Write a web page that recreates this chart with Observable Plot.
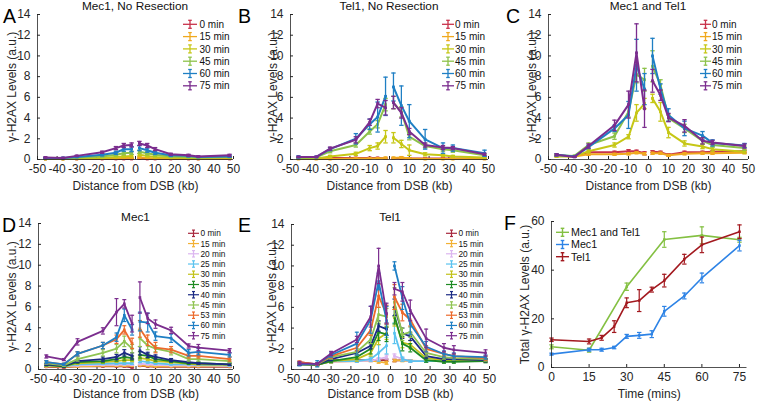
<!DOCTYPE html>
<html><head><meta charset="utf-8">
<script src="https://cdn.jsdelivr.net/npm/d3@7"></script>
<script src="https://cdn.jsdelivr.net/npm/@observablehq/plot@0.6"></script>
<style>
html,body{margin:0;padding:0;background:#fff;}
#root{position:relative;width:757px;height:401px;overflow:hidden;font-family:"Liberation Sans",Arial,Helvetica,sans-serif;}
</style></head><body><div id="root"></div>
<script>
// ---------- shared axes ----------
const distKb = [-46, -37, -30, -17, -10, -6, -2, 2, 6, 10, 18, 27, 32, 48];
const xDomain = [-50, 50];
const xTicks = [-50, -40, -30, -20, -10, 0, 10, 20, 30, 40, 50];
const yDomain = [0, 14];
const yTicks = [0, 2, 4, 6, 8, 10, 12, 14];

const timesABC = ["0 min", "15 min", "30 min", "45 min", "60 min", "75 min"];
const colorsABC = ["#c8324b", "#f0a91e", "#c6c716", "#8dc24a", "#1f7fc4", "#7b2d8e"];
const timesDE = ["0 min", "15 min", "20 min", "25 min", "30 min", "35 min", "40 min", "45 min", "53 min", "60 min", "75 min"];
const colorsDE = ["#a8283e", "#f2b134", "#dcb6f0", "#5bc3ef", "#c2c21a", "#1e8a22", "#1c2a85", "#90c452", "#ec6a2c", "#1f7fc4", "#7b2d8e"];

// ---------- Panel A: Mec1, No Resection ----------
const A_0  = [0.05,0.05,0.05,0.05,0.05,0.05,0.05,0.1,0.05,0.05,0.05,0.05,0.05,0.05];
const A_15 = [0.05,0.05,0.05,0.1,0.1,0.15,0.15,0.2,0.15,0.1,0.1,0.1,0.05,0.1];
const A_30 = [0.05,0.05,0.1,0.15,0.25,0.3,0.35,0.45,0.35,0.25,0.2,0.15,0.15,0.2];
const A_45 = [0.1,0.1,0.2,0.3,0.45,0.6,0.65,0.75,0.6,0.45,0.3,0.25,0.2,0.25];
const A_60 = [0.15,0.15,0.25,0.45,0.65,1.0,1.0,1.1,0.9,0.65,0.4,0.35,0.25,0.3];
const A_75 = [0.2,0.15,0.35,0.7,1.1,1.35,1.4,1.55,1.35,1.0,0.5,0.4,0.3,0.4];
const A_0e  = [0.03,0.03,0.03,0.03,0.03,0.03,0.03,0.05,0.03,0.03,0.03,0.03,0.03,0.03];
const A_15e = [0.03,0.03,0.03,0.05,0.05,0.05,0.05,0.08,0.05,0.05,0.05,0.05,0.03,0.05];
const A_30e = [0.03,0.03,0.05,0.05,0.08,0.1,0.1,0.1,0.1,0.08,0.05,0.05,0.05,0.05];
const A_45e = [0.05,0.05,0.05,0.08,0.1,0.15,0.15,0.15,0.15,0.1,0.08,0.05,0.05,0.05];
const A_60e = [0.05,0.05,0.05,0.1,0.15,0.2,0.25,0.25,0.2,0.15,0.1,0.1,0.05,0.1];
const A_75e = [0.05,0.05,0.05,0.1,0.15,0.2,0.2,0.2,0.2,0.15,0.1,0.1,0.05,0.1];

// ---------- Panel B: Tel1, No Resection ----------
const B_0  = [0.1,0.1,0.15,0.15,0.15,0.15,0.1,0.1,0.1,0.1,0.1,0.1,0.1,0.1];
const B_15 = [0.05,0.05,0.05,0.1,0.1,0.1,0.15,0.15,0.2,0.1,0.05,0.05,0.05,0.05];
const B_30 = [0.1,0.1,0.3,0.55,1.1,1.3,2.2,2.1,1.5,0.9,0.5,0.4,0.3,0.2];
const B_45 = [0.15,0.2,0.8,1.4,2.7,3.4,5.3,5.5,4.6,2.2,1.3,1.0,0.9,0.4];
const B_60 = [0.25,0.25,1.0,2.0,3.4,4.1,6.1,7.0,5.2,3.7,1.95,1.1,1.1,0.6];
const B_75 = [0.25,0.25,1.05,1.9,3.6,5.4,5.0,5.5,4.5,2.7,1.4,1.15,1.1,0.5];
const B_0e  = [0.05,0.05,0.05,0.05,0.05,0.05,0.05,0.05,0.05,0.05,0.05,0.05,0.05,0.05];
const B_15e = [0.05,0.05,0.05,0.05,0.05,0.05,0.08,0.08,0.08,0.05,0.05,0.05,0.05,0.05];
const B_30e = [0.05,0.05,0.1,0.15,0.25,0.3,0.6,0.5,0.35,0.5,0.15,0.1,0.1,0.1];
const B_45e = [0.05,0.05,0.15,0.2,0.25,0.35,0.6,0.6,0.5,0.3,0.2,0.2,0.2,0.1];
const B_60e = [0.1,0.05,0.15,0.5,0.5,1.45,1.85,1.35,1.9,1.6,0.95,0.5,0.3,0.3];
const B_75e = [0.05,0.05,0.15,0.3,0.3,0.4,0.7,0.6,0.5,0.3,0.2,0.2,0.15,0.1];

// ---------- Panel C: Mec1 and Tel1 ----------
const C_0  = [0.4,0.3,0.7,0.7,0.8,0.8,0.6,0.75,0.7,0.45,0.7,0.7,0.75,0.8];
const C_15 = [0.35,0.3,0.5,0.5,0.55,0.65,0.55,0.6,0.6,0.4,0.55,0.6,0.6,0.65];
const C_30 = [0.3,0.3,0.8,1.4,2.2,4.5,5.4,5.9,4.6,2.6,1.55,1.25,1.0,0.75];
const C_45 = [0.4,0.35,1.4,2.25,4.6,8.2,7.7,9.0,7.2,4.0,3.0,1.8,1.4,1.1];
const C_60 = [0.45,0.3,1.2,3.0,4.3,9.1,6.8,10.0,6.8,4.3,3.0,2.3,1.6,1.35];
const C_75 = [0.45,0.25,1.3,3.3,5.3,10.3,4.9,7.6,6.2,4.05,3.25,1.8,1.65,1.3];
const C_0e  = [0.1,0.05,0.1,0.1,0.15,0.1,0.15,0.1,0.1,0.1,0.1,0.1,0.1,0.1];
const C_15e = [0.1,0.05,0.1,0.1,0.1,0.1,0.1,0.1,0.1,0.1,0.1,0.1,0.1,0.1];
const C_30e = [0.05,0.05,0.15,0.2,0.2,0.8,0.5,0.4,0.9,0.5,0.25,0.2,0.2,0.15];
const C_45e = [0.05,0.05,0.2,0.3,0.5,0.8,1.1,1.5,0.5,0.3,0.4,0.3,0.2,0.2];
const C_60e = [0.1,0.05,0.15,0.3,1.3,2.5,1.5,1.7,0.5,0.6,0.7,0.4,0.3,0.2];
const C_75e = [0.1,0.05,0.2,0.5,1.3,2.8,1.8,1.1,0.5,0.4,0.6,0.3,0.2,0.2];

// ---------- Panel D: Mec1 ----------
const D_0  = [0.25,0.2,0.3,0.3,0.3,0.3,0.2,0.35,0.3,0.25,0.25,0.25,0.25,0.25];
const D_15 = [0.3,0.25,0.3,0.35,0.35,0.35,0.35,0.4,0.35,0.3,0.3,0.3,0.3,0.3];
const D_20 = [0.35,0.3,0.4,0.45,0.45,0.5,0.45,0.55,0.5,0.45,0.4,0.4,0.4,0.35];
const D_25 = [0.4,0.3,0.5,0.55,0.6,0.6,0.6,0.8,0.7,0.6,0.5,0.5,0.45,0.4];
const D_30 = [0.4,0.3,0.6,0.7,0.8,0.9,0.9,1.1,1.0,0.8,0.7,0.55,0.5,0.45];
const D_35 = [0.45,0.3,0.7,0.8,1.0,1.2,1.1,1.4,1.3,1.0,0.8,0.6,0.6,0.5];
const D_40 = [0.5,0.35,0.8,1.0,1.2,1.6,1.3,1.8,1.4,1.2,0.9,0.7,0.6,0.5];
const D_45 = [0.6,0.4,1.0,1.6,2.0,2.7,2.0,3.0,2.3,2.0,1.7,1.0,1.0,0.8];
const D_53 = [0.7,0.5,1.5,2.3,2.9,3.8,2.5,3.9,2.8,2.1,1.9,1.3,1.3,1.0];
const D_60 = [0.7,0.5,1.5,2.3,3.1,5.2,3.8,4.6,4.5,3.2,3.0,1.6,1.7,1.4];
const D_75 = [1.25,0.95,2.65,3.7,5.5,6.3,4.4,6.9,4.9,4.35,3.75,2.25,2.1,1.8];
const D_0e  = [0.05,0.05,0.05,0.05,0.05,0.05,0.05,0.05,0.05,0.05,0.05,0.05,0.05,0.05];
const D_15e = [0.05,0.05,0.05,0.05,0.05,0.05,0.05,0.05,0.05,0.05,0.05,0.05,0.05,0.05];
const D_20e = [0.05,0.05,0.05,0.05,0.05,0.05,0.05,0.1,0.05,0.05,0.05,0.05,0.05,0.05];
const D_25e = [0.05,0.05,0.05,0.05,0.1,0.1,0.1,0.15,0.1,0.1,0.05,0.05,0.05,0.05];
const D_30e = [0.05,0.05,0.1,0.1,0.1,0.15,0.15,0.2,0.15,0.1,0.1,0.05,0.05,0.05];
const D_35e = [0.1,0.1,0.1,0.15,0.2,0.3,0.2,0.3,0.2,0.2,0.1,0.1,0.1,0.1];
const D_40e = [0.1,0.1,0.15,0.2,0.25,0.3,0.3,0.4,0.25,0.2,0.15,0.1,0.1,0.1];
const D_45e = [0.1,0.1,0.2,0.3,0.4,0.5,0.4,0.8,0.4,0.3,0.3,0.2,0.2,0.15];
const D_53e = [0.15,0.1,0.2,0.3,0.4,0.4,0.5,0.8,0.5,0.5,0.3,0.2,0.2,0.2];
const D_60e = [0.15,0.1,0.2,0.3,0.4,0.6,0.5,0.9,0.9,0.4,0.4,0.3,0.3,0.2];
const D_75e = [0.15,0.1,0.3,0.3,1.3,0.4,0.8,1.5,0.5,0.4,0.3,0.2,0.3,0.2];

// ---------- Panel E: Tel1 ----------
const E_0  = [0.7,0.5,0.9,0.9,0.9,0.9,0.9,0.85,0.9,0.85,0.8,0.8,0.8,0.8];
const E_15 = [0.6,0.5,0.75,0.8,0.85,0.75,0.65,0.9,0.85,0.85,0.8,0.8,0.8,0.85];
const E_20 = [0.6,0.5,0.75,0.8,0.85,1.0,1.2,1.3,1.0,0.8,0.8,0.8,0.8,0.9];
const E_25 = [0.6,0.5,0.8,0.8,1.0,1.6,2.3,3.5,1.0,0.8,0.8,0.8,0.8,0.9];
const E_30 = [0.5,0.45,0.8,1.0,1.6,3.0,3.5,5.0,2.6,2.4,1.1,0.9,0.9,0.9];
const E_35 = [0.5,0.45,0.8,1.2,2.0,3.6,3.4,5.2,2.5,2.1,0.9,0.75,0.75,0.8];
const E_40 = [0.5,0.5,1.0,1.6,2.3,4.2,3.9,6.0,3.5,3.2,1.3,1.0,1.0,0.9];
const E_45 = [0.6,0.5,1.2,1.7,2.9,5.3,5.1,6.5,3.4,3.6,1.6,1.2,1.1,1.0];
const E_53 = [0.7,0.5,1.3,2.1,3.8,7.1,5.3,7.0,5.5,4.8,2.0,1.5,1.3,1.1];
const E_60 = [0.5,0.55,1.4,2.5,4.8,8.5,4.7,10.0,6.9,4.4,2.2,1.5,1.3,1.2];
const E_75 = [0.6,0.55,1.55,2.9,5.1,10.0,5.4,7.8,7.5,5.7,3.0,2.1,1.9,1.6];
const E_0e  = [0.1,0.05,0.1,0.1,0.1,0.1,0.1,0.1,0.1,0.1,0.1,0.1,0.1,0.1];
const E_15e = [0.1,0.05,0.1,0.1,0.1,0.15,0.15,0.15,0.1,0.1,0.1,0.1,0.1,0.1];
const E_20e = [0.1,0.05,0.1,0.1,0.1,0.15,0.2,0.2,0.15,0.1,0.1,0.1,0.1,0.1];
const E_25e = [0.1,0.1,0.1,0.1,0.2,0.8,0.8,1.0,0.2,0.1,0.1,0.1,0.1,0.1];
const E_30e = [0.1,0.1,0.15,0.2,0.3,0.6,0.6,0.8,0.5,0.4,0.2,0.15,0.15,0.15];
const E_35e = [0.1,0.1,0.15,0.2,0.5,0.8,0.7,0.8,0.7,0.4,0.2,0.15,0.15,0.15];
const E_40e = [0.1,0.1,0.15,0.2,0.3,0.5,0.6,0.8,0.5,0.4,0.2,0.15,0.15,0.15];
const E_45e = [0.1,0.1,0.2,0.3,0.4,0.7,0.8,1.4,0.6,0.5,0.3,0.2,0.2,0.2];
const E_53e = [0.1,0.1,0.2,0.3,0.5,1.1,0.9,1.2,0.8,0.6,0.3,0.2,0.2,0.2];
const E_60e = [0.15,0.3,0.2,1.1,1.3,0.8,1.4,0.4,1.1,1.0,0.5,0.3,0.3,0.2];
const E_75e = [0.15,0.1,0.2,0.3,1.0,1.7,1.0,0.6,0.9,1.0,0.9,0.4,0.4,0.3];

// ---------- Panel F: totals ----------
const fNames = ["Mec1 and Tel1", "Mec1", "Tel1"];
const fColors = ["#84c042", "#2d83e6", "#a3191f"];
const fTimesBoth = [0, 15, 30, 45, 60, 75];
const fBoth    = [8.5, 7.1, 33.2, 52.6, 54.3, 52.5];
const fBothErr = [0.8, 0.8, 1.5, 3.2, 3.5, 1.0];
const fTimes = [0, 15, 20, 25, 30, 35, 40, 45, 53, 60, 75];
const fMec1    = [5.5, 7.3, 7.3, 8.2, 12.8, 13.2, 13.7, 23.1, 29.4, 36.8, 50.1];
const fMec1Err = [0.4, 0.6, 0.6, 0.5, 0.8, 1.2, 1.4, 2.0, 1.2, 2.0, 2.2];
const fTel1    = [11.4, 10.7, 12.2, 16.8, 26.6, 27.5, 32.0, 35.7, 44.5, 50.4, 55.8];
const fTel1Err = [0.7, 1.0, 1.0, 2.4, 2.0, 4.5, 1.0, 2.6, 2.0, 3.2, 2.8];
const fXDomain = [0, 78];
const fXTicks = [0, 15, 30, 45, 60, 75];
const fYDomain = [0, 60];
const fYTicks = [0, 20, 40, 60];

// ---------- helpers ----------
const FONT = '"Liberation Sans", Arial, Helvetica, sans-serif';
const AX = "#262626";
const root = document.getElementById("root");
const capSym = {draw(ctx, size) { const r = Math.sqrt(size / Math.PI); ctx.moveTo(-r, 0); ctx.lineTo(r, 0); }};

function seriesMarks(xs, vals, errs, color, o) {
  const rows = xs.map((x, i) => ({x, y: vals[i], lo: vals[i] - errs[i], hi: vals[i] + errs[i], side: o.split ? (x < 0 ? "L" : "R") : "all"}));
  return [
    Plot.ruleX(rows, {x: "x", y1: "lo", y2: "hi", stroke: color, strokeWidth: o.ebw}),
    Plot.dot(rows, {x: "x", y: "lo", symbol: capSym, r: o.capR, stroke: color, fill: "none", strokeWidth: o.ebw}),
    Plot.dot(rows, {x: "x", y: "hi", symbol: capSym, r: o.capR, stroke: color, fill: "none", strokeWidth: o.ebw}),
    Plot.line(rows, {x: "x", y: "y", z: "side", stroke: color, strokeWidth: o.lw, curve: "linear"}),
    Plot.dot(rows, {x: "x", y: "y", symbol: "square", r: o.dotR, fill: color, stroke: "none"})
  ];
}

function panel(cfg) {
  const marks = [];
  cfg.series.forEach(s => marks.push(...seriesMarks(s.xs, s.v, s.e, s.color, cfg)));
  marks.push(Plot.ruleX([cfg.xDomain[0]], {stroke: AX, strokeWidth: 0.8}));
  marks.push(Plot.ruleY([cfg.yDomain[0]], {stroke: AX, strokeWidth: 0.8}));
  const svg = Plot.plot({
    width: cfg.width, height: cfg.height,
    marginLeft: cfg.ml, marginRight: cfg.mr, marginTop: cfg.mt, marginBottom: cfg.mb,
    style: {fontFamily: FONT, fontSize: "12px", color: AX, background: "transparent", overflow: "visible"},
    x: {domain: cfg.xDomain, ticks: cfg.xTicks, tickFormat: d => String(d), tickSize: -3, tickPadding: 8,
        label: cfg.xLabel, labelAnchor: "center", labelArrow: "none", labelOffset: cfg.xLabelOffset},
    y: {domain: cfg.yDomain, ticks: cfg.yTicks, tickFormat: d => String(d), tickSize: -3, tickPadding: 10,
        label: cfg.yLabel, labelAnchor: "center", labelArrow: "none", labelOffset: cfg.yLabelOffset},
    marks
  });
  svg.style.position = "absolute";
  svg.style.left = cfg.left + "px";
  svg.style.top = cfg.top + "px";
  root.appendChild(svg);
}

function profSeries(vals, errs, colors) {
  return vals.map((v, i) => ({xs: distKb, v, e: errs[i], color: colors[i]}));
}
const YLAB = "\u03B3-H2AX Levels (a.u.)";
const XLAB = "Distance from DSB (kb)";
const common = {xDomain, xTicks, yDomain, yTicks, xLabel: XLAB, yLabel: YLAB, split: true};

panel({...common, left: 0, top: 0, width: 250, height: 200, ml: 37, mr: 17, mt: 14, mb: 41, yLabelOffset: 30.5, xLabelOffset: 30,
  lw: 2, ebw: 1.3, capR: 2.2, dotR: 1.6,
  series: profSeries([A_0, A_15, A_30, A_45, A_60, A_75], [A_0e, A_15e, A_30e, A_45e, A_60e, A_75e], colorsABC)});
panel({...common, left: 250, top: 0, width: 250, height: 200, ml: 40, mr: 12, mt: 14, mb: 41, yLabelOffset: 22.5, xLabelOffset: 30,
  lw: 2, ebw: 1.3, capR: 2.2, dotR: 1.6,
  series: profSeries([B_0, B_15, B_30, B_45, B_60, B_75], [B_0e, B_15e, B_30e, B_45e, B_60e, B_75e], colorsABC)});
panel({...common, left: 500, top: 0, width: 257, height: 200, ml: 48, mr: 9, mt: 14, mb: 41, yLabelOffset: 21, xLabelOffset: 30,
  lw: 2, ebw: 1.3, capR: 2.2, dotR: 1.6,
  series: profSeries([C_0, C_15, C_30, C_45, C_60, C_75], [C_0e, C_15e, C_30e, C_45e, C_60e, C_75e], colorsABC)});
panel({...common, left: 0, top: 200, width: 250, height: 201, ml: 38, mr: 17, mt: 23, mb: 32, yLabelOffset: 31, xLabelOffset: 28,
  lw: 1.8, ebw: 1.2, capR: 2, dotR: 1.5,
  series: profSeries([D_0, D_15, D_20, D_25, D_30, D_35, D_40, D_45, D_53, D_60, D_75],
    [D_0e, D_15e, D_20e, D_25e, D_30e, D_35e, D_40e, D_45e, D_53e, D_60e, D_75e], colorsDE)});
panel({...common, left: 250, top: 200, width: 250, height: 201, ml: 41, mr: 11, mt: 24, mb: 32, yLabelOffset: 24, xLabelOffset: 28,
  lw: 1.8, ebw: 1.2, capR: 2, dotR: 1.5,
  series: profSeries([E_0, E_15, E_20, E_25, E_30, E_35, E_40, E_45, E_53, E_60, E_75],
    [E_0e, E_15e, E_20e, E_25e, E_30e, E_35e, E_40e, E_45e, E_53e, E_60e, E_75e], colorsDE)});
panel({left: 500, top: 200, width: 257, height: 201, ml: 51, mr: 10.5, mt: 21, mb: 34, yLabelOffset: 31, xLabelOffset: 30,
  xDomain: fXDomain, xTicks: fXTicks, yDomain: fYDomain, yTicks: fYTicks, split: false,
  xLabel: "Time (mins)", yLabel: "Total \u03B3-H2AX Levels (a.u.)",
  lw: 1.6, ebw: 1.2, capR: 2.2, dotR: 1.4,
  series: [
    {xs: fTimesBoth, v: fBoth, e: fBothErr, color: fColors[0]},
    {xs: fTimes, v: fMec1, e: fMec1Err, color: fColors[1]},
    {xs: fTimes, v: fTel1, e: fTel1Err, color: fColors[2]}
  ]});

// ---------- overlay: titles, panel letters, legends ----------
const ov = d3.create("svg").attr("width", 757).attr("height", 401)
  .style("position", "absolute").style("left", "0px").style("top", "0px")
  .style("font-family", FONT).style("pointer-events", "none");
root.appendChild(ov.node());

const titles = [
  {t: "Mec1, No Resection", x: 135, y: 9.5},
  {t: "Tel1, No Resection", x: 389, y: 9.5},
  {t: "Mec1 and Tel1", x: 648, y: 9.5},
  {t: "Mec1", x: 135.5, y: 221},
  {t: "Tel1", x: 390, y: 221}
];
titles.forEach(d => ov.append("text").attr("x", d.x).attr("y", d.y).attr("text-anchor", "middle")
  .attr("font-size", 11.8).attr("fill", "#111").text(d.t));

const letters = [
  {t: "A", x: 3, y: 23}, {t: "B", x: 238, y: 23}, {t: "C", x: 506, y: 23},
  {t: "D", x: 2, y: 232}, {t: "E", x: 238, y: 232}, {t: "F", x: 504, y: 230}
];
letters.forEach(d => ov.append("text").attr("x", d.x).attr("y", d.y).attr("font-size", 19.5).attr("fill", "#000").text(d.t));

function legend(names, colors, o) {
  names.forEach((name, i) => {
    const y = o.y0 + i * o.dy;
    const cx = (o.x0 + o.x1) / 2;
    const g = ov.append("g").attr("stroke", colors[i]).attr("stroke-width", o.lw);
    g.append("line").attr("x1", o.x0).attr("x2", o.x1).attr("y1", y).attr("y2", y);
    g.append("line").attr("x1", cx).attr("x2", cx).attr("y1", y - o.eh).attr("y2", y + o.eh);
    g.append("line").attr("x1", cx - o.cw).attr("x2", cx + o.cw).attr("y1", y - o.eh).attr("y2", y - o.eh);
    g.append("line").attr("x1", cx - o.cw).attr("x2", cx + o.cw).attr("y1", y + o.eh).attr("y2", y + o.eh);
    ov.append("text").attr("x", o.tx).attr("y", y).attr("dy", "0.36em").attr("font-size", o.fs).attr("fill", "#111").text(name);
  });
}
legend(timesABC, colorsABC, {x0: 183, x1: 197, tx: 199.5, y0: 24.3, dy: 12.3, fs: 10, lw: 1.3, eh: 4, cw: 1.8});
legend(timesABC, colorsABC, {x0: 442, x1: 454, tx: 455, y0: 24.3, dy: 12.3, fs: 10, lw: 1.3, eh: 4, cw: 1.8});
legend(timesABC, colorsABC, {x0: 700, x1: 711, tx: 712, y0: 24.3, dy: 12.3, fs: 10, lw: 1.3, eh: 4, cw: 1.8});
legend(timesDE, colorsDE, {x0: 188, x1: 199, tx: 200.5, y0: 233.3, dy: 10.24, fs: 8.3, lw: 1.2, eh: 3.2, cw: 1.5});
legend(timesDE, colorsDE, {x0: 446, x1: 457, tx: 458.5, y0: 233.3, dy: 10.24, fs: 8.3, lw: 1.2, eh: 3.2, cw: 1.5});
legend(fNames, fColors, {x0: 556, x1: 569, tx: 571, y0: 232.3, dy: 12.2, fs: 10.7, lw: 1.4, eh: 4, cw: 1.8});
</script>
</body></html>
